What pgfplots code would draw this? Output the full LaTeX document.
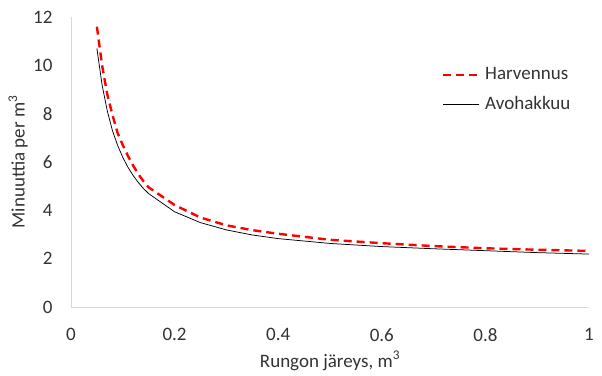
\documentclass[border=0pt]{standalone}
\usepackage{pgfplots}
\pgfplotsset{compat=1.18}
\usepackage{fontspec}
\setmainfont{Carlito}
\definecolor{txt}{HTML}{333333}
\definecolor{axl}{HTML}{D9D9D9}
\definecolor{hred}{HTML}{FF0000}
\begin{document}
\fontsize{19bp}{23bp}\selectfont
\begin{tikzpicture}
\useasboundingbox (0,0) rectangle (602bp,376bp);
\begin{axis}[
  at={(71bp,69bp)}, anchor=south west,
  scale only axis, width=518bp, height=290bp,
  xmin=0, xmax=1, ymin=0, ymax=12,
  xtick={0,0.2,0.4,0.6,0.8,1}, ytick={0,2,4,6,8,10,12},
  axis x line*=bottom, axis y line*=left,
  axis line style={axl, line width=0.75bp, -},
  major tick length=0pt,
  /pgf/number format/assume math mode=true,
  tick label style={txt},
  xticklabel style={yshift=-15bp},
  yticklabel style={xshift=-12bp},
  every axis x label/.style={at={(axis description cs:0.5,-0.186)}, anchor=center, txt},
  every axis y label/.style={at={(axis description cs:-0.1023,0.5)}, anchor=center, rotate=90, txt},
  xlabel={Rungon järeys, m\textsuperscript{3}},
  ylabel={Minuuttia per m\textsuperscript{3}},
  legend style={draw=none, fill=none, at={(0.7097,0.841)}, anchor=north west, text=txt, row sep=10bp, column sep=3bp},
  legend cell align=left,
  legend image code/.code={\draw[#1] (0bp,0bp) -- (36bp,0bp);},
]
\addplot[hred, line width=2.4bp, dash pattern=on 8bp off 5bp] coordinates {
(0.05,11.6) (0.06,10.0) (0.07,8.8) (0.08,7.95) (0.09,7.2) (0.1,6.7) (0.11,6.25) (0.12,5.85) (0.13,5.5) (0.14,5.2) (0.15,4.95) (0.2,4.22) (0.25,3.7) (0.3,3.38) (0.35,3.18) (0.4,3.03) (0.5,2.78) (0.6,2.64) (0.7,2.52) (0.8,2.43) (0.9,2.37) (1.0,2.32)
};
\addlegendentry{Harvennus}
\addplot[black, line width=0.75bp] coordinates {
(0.05,10.7) (0.06,9.19) (0.07,8.12) (0.08,7.3) (0.09,6.69) (0.1,6.19) (0.11,5.78) (0.12,5.44) (0.13,5.15) (0.14,4.9) (0.15,4.69) (0.2,3.94) (0.25,3.49) (0.3,3.19) (0.35,2.98) (0.4,2.83) (0.5,2.63) (0.6,2.5) (0.7,2.41) (0.8,2.33) (0.9,2.25) (1.0,2.19)
};
\addlegendentry{Avohakkuu}
\end{axis}
\end{tikzpicture}
\end{document}
